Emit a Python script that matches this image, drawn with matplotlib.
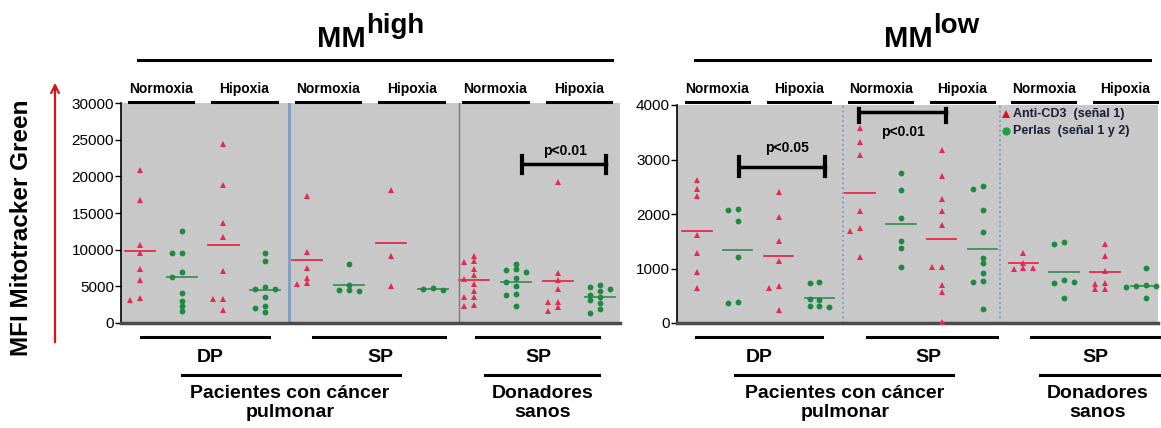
import numpy as np
import matplotlib.pyplot as plt
import matplotlib.transforms as mtransforms
from matplotlib import font_manager as fm

plt.rcParams['font.family'] = ['Liberation Sans', 'DejaVu Sans']

# column order in each panel: DP Normoxia, DP Hipoxia, SP Normoxia, SP Hipoxia, Donadores Normoxia, Donadores Hipoxia
high_red = [
    [20900, 16800, 10700, 9500, 7300, 5800, 3400, 3200],
    [24400, 18800, 13600, 11700, 7100, 3300, 3300, 1800],
    [17300, 9700, 7500, 6200, 5400, 5300],
    [18200, 9200, 5000],
    [9200, 8400, 8300, 7300, 6500, 6000, 5300, 4300, 3500, 3500, 2400, 2300],
    [19200, 6800, 5800, 4700, 2900, 2800, 2200, 1700],
]
high_green = [
    [12600, 9600, 9600, 6900, 6300, 4100, 3000, 2300, 1600],
    [9500, 8500, 4900, 4700, 4600, 3500, 2300, 2000, 1500],
    [8100, 5200, 4500, 4500, 4400],
    [4800, 4700, 4500],
    [8100, 7400, 7200, 6900, 6100, 5600, 5000, 3900, 3800, 2300],
    [5200, 4900, 4600, 4300, 3800, 3500, 3100, 2700, 1900, 1400],
]
high_red_mean = [9860, 10630, 8630, 10900, 5920, 5740]
high_green_mean = [6280, 4520, 5240, 4660, 5650, 3530]

low_red = [
    [2620, 2450, 2330, 1620, 1280, 930, 640],
    [2410, 1950, 1500, 1130, 680, 640, 240],
    [3570, 3330, 3080, 2050, 1750, 1680, 1220],
    [3180, 2700, 2270, 2050, 1800, 1030, 1020, 700, 570, 10],
    [1290, 1100, 1010, 1000, 1010],
    [1450, 1230, 950, 740, 720, 620, 630],
]
low_green = [
    [2100, 2080, 1880, 1220, 380, 370],
    [760, 730, 430, 440, 320, 310, 300],
    [2760, 2440, 1920, 1510, 1370, 1020],
    [2520, 2450, 2080, 1670, 1190, 1100, 920, 770, 750, 260],
    [1480, 1450, 780, 740, 760, 460],
    [1010, 690, 670, 680, 660, 460],
]
low_red_mean = [1697, 1233, 2393, 1539, 1099, 927]
low_green_mean = [1343, 458, 1820, 1356, 927, 670]

conditions = ["Normoxia", "Hipoxia"] * 3
legend_labels = ["Anti-CD3  (señal 1)", "Perlas  (señal 1 y 2)"]

RED = '#e8294f'
GREEN = '#1c8a40'
BG = '#c8c8c8'

try:
    fm.findfont('Liberation Sans Narrow', fallback_to_default=False)
    NARROW, NSIZE = 'Liberation Sans Narrow', 16.5
except Exception:
    NARROW, NSIZE = 'Liberation Sans', 14


def swarm(ax, vals, ymax, px_per_x, min_px=4.8, step=0.24):
    # simple beeswarm: put each point at the first free horizontal slot
    h = ax.get_position().height * 428
    py = h / ymax
    placed = []
    offs = []
    for v in vals:
        for k in [0, -1, 1, -2, 2, -3, 3]:
            dx = k * step
            ok = all(np.hypot((dx - ox) * px_per_x, (v - ov) * py) >= min_px for ox, ov in placed)
            if ok:
                break
        placed.append((dx, v))
        offs.append(dx)
    return np.array(offs)


fig = plt.figure(figsize=(11.61, 4.28), dpi=100)

ax1 = fig.add_axes([121 / 1161, 105 / 428, 499 / 1161, 220 / 428])
ax2 = fig.add_axes([677 / 1161, 105 / 428, 481 / 1161, 218 / 428])

ov = fig.add_axes([0, 0, 1, 1])
ov.set_xlim(0, 1161)
ov.set_ylim(428, 0)
ov.axis('off')
ov.set_zorder(5)

panels = [
    (ax1, high_red, high_green, high_red_mean, high_green_mean, 30000, 5000, (-0.45, 11.48), 41.8),
    (ax2, low_red, low_green, low_red_mean, low_green_mean, 4000, 1000, (-0.49, 11.3), 40.5),
]

for ax, reds, greens, rmeans, gmeans, ymax, ystep, xl, pxx in panels:
    ax.set_facecolor(BG)
    ax.set_xlim(*xl)
    ax.set_ylim(0, ymax)
    ax.set_yticks(np.arange(0, ymax + 1, ystep))
    ax.set_xticks([])
    ax.tick_params(axis='y', labelsize=11, length=4, width=1, pad=1)
    for s in ['top', 'right']:
        ax.spines[s].set_visible(False)
    ax.spines['left'].set_linewidth(1.2)
    ax.spines['bottom'].set_color('#4a4a4a')
    ax.spines['bottom'].set_linewidth(2.5)
    for i in range(6):
        xr, xg = 2 * i, 2 * i + 1
        r = np.array(reds[i])
        g = np.array(greens[i])
        ax.plot(xr + swarm(ax, r, ymax, pxx), r, '^', color=RED, ms=4.2, mew=0, clip_on=False, zorder=3)
        ax.plot(xg + swarm(ax, g, ymax, pxx), g, 'o', color=GREEN, ms=4.2, mew=0, clip_on=False, zorder=3)
        ax.plot([xr - 0.36, xr + 0.36], [rmeans[i]] * 2, color=RED, lw=1.3, zorder=2)
        ax.plot([xg - 0.36, xg + 0.36], [gmeans[i]] * 2, color='#3f8f5a', lw=1.3, zorder=2)
    # condition headers
    tr = mtransforms.blended_transform_factory(ax.transData, ov.transData)
    for i, c in enumerate(conditions):
        xc = 2 * i + 0.5
        ax.text(xc, 89, c, transform=tr, ha='center', va='center', fontsize=10, fontweight='bold')
        ax.plot([xc - 0.77, xc + 0.77], [102, 102], transform=tr, color='black', lw=2.2, clip_on=False)

# dividers
ax1.axvline(3.57, color='#7c9ec4', lw=2)
ax1.axvline(7.62, color='#7a7a7a', lw=1)
ax2.axvline(3.58, color='#6f9ad0', lw=1.3, ls=':')
ax2.axvline(7.42, color='#6f9ad0', lw=1.3, ls=':')


def bracket(ax, x0, x1, y, lo, hi, lw=2.5):
    ax.plot([x0, x1], [y, y], color='black', lw=lw, zorder=4)
    for x in (x0, x1):
        ax.plot([x, x], [lo, hi], color='black', lw=lw + 0.5, zorder=4, clip_on=False)


bracket(ax1, 9.13, 11.15, 21620, 20500, 22750)
ax1.text(10.17, 23500, "p<0.01", ha='center', va='center', fontsize=10, fontweight='bold')
bracket(ax2, 1.02, 3.14, 2870, 2700, 3040)
ax2.text(2.21, 3210, "p<0.05", ha='center', va='center', fontsize=10, fontweight='bold')
bracket(ax2, 3.96, 6.10, 3877, 3690, 3930)
ax2.text(5.05, 3510, "p<0.01", ha='center', va='center', fontsize=10, fontweight='bold')

# legend
ov.plot(1006, 114, '^', color='#e01020', ms=6, mew=0)
ov.plot(1006, 131, 'o', color='#22a040', ms=6, mew=0)
ov.text(1013, 114, legend_labels[0], ha='left', va='center', fontsize=9, fontweight='bold', color='#1c1c3c')
ov.text(1013, 131, legend_labels[1], ha='left', va='center', fontsize=9, fontweight='bold', color='#1c1c3c')

# titles
for xm, sup, x0, x1 in [(366, "high", 138, 612), (933, "low", 695, 1150)]:
    ov.text(xm, 47, "MM", ha='right', va='baseline', fontsize=21, fontweight='bold')
    ov.text(xm, 33, sup, ha='left', va='baseline', fontsize=20, fontweight='bold')
    ov.plot([x0, x1], [60, 60], color='black', lw=2.2)

# y label and arrow
ov.text(22, 228, "MFI Mitotracker Green", rotation=90, ha='center', va='center', fontsize=17.5, fontweight='bold')
ov.annotate("", xy=(55, 80), xytext=(55, 345),
            arrowprops=dict(arrowstyle='->', color='#e0101a', lw=1.6, mutation_scale=14))

# bottom group labels
row1 = [(141, 269, 210, "DP"), (313, 445, 380, "SP"), (476, 599, 538, "SP"),
        (696, 822, 759, "DP"), (867, 997, 928, "SP"), (1031, 1161, 1095, "SP")]
for a, b, c, t in row1:
    ov.plot([a, b], [337, 337], color='black', lw=2.2)
    ov.text(c, 357, t, ha='center', va='center', fontsize=NSIZE, fontweight='bold', family=[NARROW, 'DejaVu Sans'])
row2 = [(182, 400, 290, "Pacientes con cáncer\npulmonar"), (485, 599, 543, "Donadores\nsanos"),
        (735, 953, 845, "Pacientes con cáncer\npulmonar"), (1040, 1161, 1098, "Donadores\nsanos")]
for a, b, c, t in row2:
    ov.plot([a, b], [375, 375], color='black', lw=2.2)
    ov.text(c, 403, t, ha='center', va='center', fontsize=NSIZE, fontweight='bold',
            family=[NARROW, 'DejaVu Sans'], linespacing=1.1)

fig.savefig('out.png', dpi=100)
